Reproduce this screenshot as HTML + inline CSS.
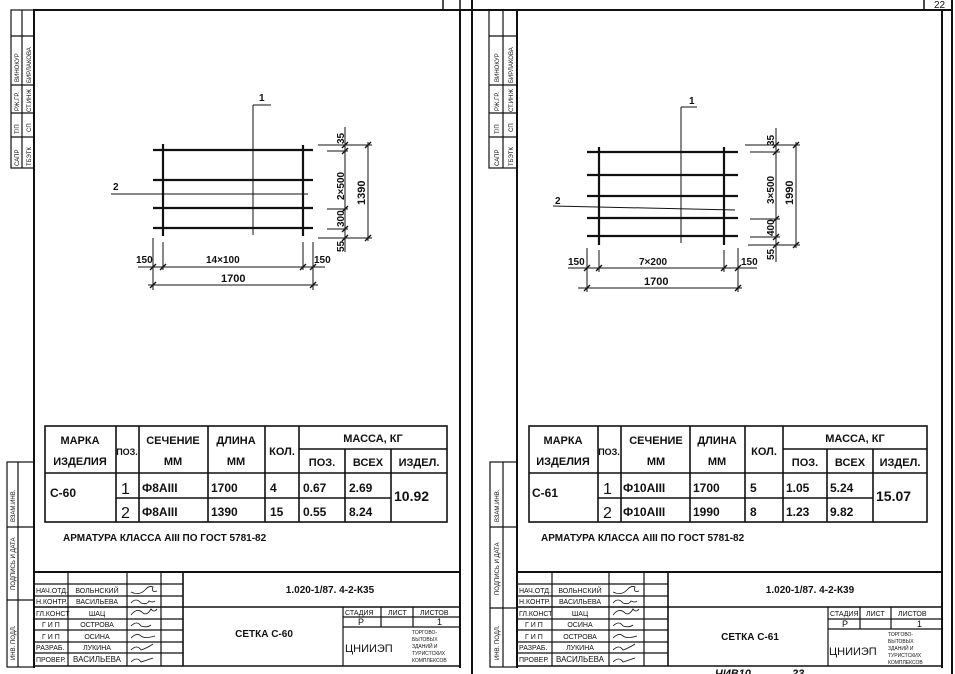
<!DOCTYPE html>
<html><head><meta charset="utf-8"><style>
html,body{margin:0;padding:0;background:#fff;}
svg{display:block;}
text{font-family:"Liberation Sans",sans-serif;fill:#111;}
.b{font-weight:bold;}
.m{font-family:"Liberation Mono",monospace;font-weight:bold;}
</style></head><body>
<svg width="955" height="674" viewBox="0 0 955 674" xmlns="http://www.w3.org/2000/svg" stroke="#111" fill="none">
<defs><path id="tk" d="M-3 3 L3 -3" stroke-width="1.3"/></defs>
<!-- global frame lines -->
<line x1="33" y1="10" x2="952" y2="10" stroke-width="2"/>
<line x1="443" y1="0" x2="443" y2="10" stroke-width="1.5"/>
<line x1="472" y1="0" x2="472" y2="674" stroke-width="2"/>
<line x1="924" y1="0" x2="924" y2="10" stroke-width="1.5"/>
<line x1="952" y1="0" x2="952" y2="674" stroke-width="2"/>
<text x="934" y="8" font-size="10" stroke="none">22</text>

<!-- ===== LEFT SHEET ===== -->
<line x1="34" y1="10" x2="34" y2="668" stroke-width="2"/>
<line x1="460" y1="10" x2="460" y2="668" stroke-width="2"/>
<line x1="34" y1="666" x2="460" y2="666" stroke-width="1.5"/>
<g stroke-width="1.2">
<rect x="11" y="10" width="23" height="158"/>
<line x1="22" y1="10" x2="22" y2="168"/>
<line x1="11" y1="36" x2="34" y2="36"/>
<line x1="11" y1="85" x2="34" y2="85"/>
<line x1="11" y1="113" x2="34" y2="113"/>
<line x1="11" y1="137" x2="34" y2="137"/>
</g>
<g font-size="6" stroke="none">
<text transform="translate(19,166) rotate(-90)">САПР</text>
<text transform="translate(31,166) rotate(-90)">ТБЭТК</text>
<text transform="translate(19,134) rotate(-90)">Т/П</text>
<text transform="translate(31,132) rotate(-90)">СП</text>
<text transform="translate(19,111) rotate(-90)">РЖ.ГР.</text>
<text transform="translate(31,112) rotate(-90)">СТ.ИНЖ</text>
<text transform="translate(19,82) rotate(-90)">ВИНОКУР</text>
<text transform="translate(31,83) rotate(-90)">БИРЛАКОВА</text>
</g>
<g stroke-width="1.2">
<rect x="7" y="462" width="27" height="205"/>
<line x1="18" y1="462" x2="18" y2="667"/>
<line x1="7" y1="527" x2="34" y2="527"/>
<line x1="7" y1="600" x2="34" y2="600"/>
</g>
<g font-size="6" stroke="none">
<text transform="translate(15,522) rotate(-90)">ВЗАМ.ИНВ.</text>
<text transform="translate(15,590) rotate(-90)">ПОДПИСЬ И ДАТА</text>
<text transform="translate(15,660) rotate(-90)">ИНВ. ПОДЛ.</text>
</g>

<!-- left drawing -->
<g stroke-width="2.2">
<line x1="153" y1="150" x2="313" y2="150"/>
<line x1="153" y1="180" x2="313" y2="180"/>
<line x1="153" y1="208" x2="313" y2="208"/>
<line x1="153" y1="228" x2="313" y2="228"/>
<line x1="163" y1="144" x2="163" y2="236"/>
<line x1="303" y1="145" x2="303" y2="236"/>
</g>
<g stroke-width="1">
<line x1="111" y1="194" x2="308" y2="194"/>
<line x1="253" y1="105" x2="253" y2="235"/>
<line x1="253" y1="105" x2="271" y2="105"/>
<line x1="318" y1="145" x2="372" y2="145"/>
<line x1="318" y1="238" x2="372" y2="238"/>
<line x1="327" y1="151" x2="348" y2="151"/>
<line x1="327" y1="209" x2="348" y2="209"/>
<line x1="327" y1="229" x2="348" y2="229"/>
<line x1="345" y1="127" x2="345" y2="252"/>
<line x1="368" y1="142" x2="368" y2="241"/>
<line x1="153" y1="238" x2="153" y2="290"/>
<line x1="163" y1="242" x2="163" y2="270"/>
<line x1="303" y1="242" x2="303" y2="270"/>
<line x1="313" y1="242" x2="313" y2="290"/>
<line x1="138" y1="267" x2="325" y2="267"/>
<line x1="148" y1="285" x2="318" y2="285"/>
</g>
<g>
<use href="#tk" x="153" y="267"/><use href="#tk" x="163" y="267"/><use href="#tk" x="303" y="267"/><use href="#tk" x="313" y="267"/>
<use href="#tk" x="153" y="285"/><use href="#tk" x="313" y="285"/>
<use href="#tk" x="345" y="145"/><use href="#tk" x="345" y="151"/><use href="#tk" x="345" y="209"/><use href="#tk" x="345" y="229"/><use href="#tk" x="345" y="238"/>
<use href="#tk" x="368" y="145"/><use href="#tk" x="368" y="238"/>
</g>
<g font-size="11" stroke="none" class="b">
<text x="259" y="101" font-size="10">1</text>
<text x="113" y="190" font-size="10">2</text>
<text transform="translate(344,144) rotate(-90)" font-size="10">35</text>
<text transform="translate(344,200) rotate(-90)" font-size="10">2×500</text>
<text transform="translate(344,227) rotate(-90)" font-size="10">300</text>
<text transform="translate(344,252) rotate(-90)" font-size="10">55</text>
<text transform="translate(365,205) rotate(-90)" font-size="11">1390</text>
<text x="136" y="263" font-size="10">150</text>
<text x="206" y="263" font-size="10">14×100</text>
<text x="314" y="263" font-size="10">150</text>
<text x="221" y="282" font-size="11">1700</text>
</g>

<!-- left table -->
<g stroke-width="1.6">
<rect x="45" y="426" width="402" height="96"/>
<line x1="45" y1="473" x2="447" y2="473"/>
<line x1="299" y1="449" x2="447" y2="449"/>
<line x1="116" y1="498" x2="391" y2="498"/>
<line x1="116" y1="426" x2="116" y2="522"/>
<line x1="139" y1="426" x2="139" y2="522"/>
<line x1="208" y1="426" x2="208" y2="522"/>
<line x1="265" y1="426" x2="265" y2="522"/>
<line x1="299" y1="426" x2="299" y2="522"/>
<line x1="345" y1="449" x2="345" y2="522"/>
<line x1="391" y1="449" x2="391" y2="522"/>
</g>
<g stroke="none" class="b" font-size="11">
<text x="80" y="444" text-anchor="middle">МАРКА</text>
<text x="80" y="465" text-anchor="middle">ИЗДЕЛИЯ</text>
<text x="127" y="455" text-anchor="middle" font-size="9">ПОЗ.</text>
<text x="173" y="444" text-anchor="middle">СЕЧЕНИЕ</text>
<text x="173" y="465" text-anchor="middle">ММ</text>
<text x="236" y="444" text-anchor="middle">ДЛИНА</text>
<text x="236" y="465" text-anchor="middle">ММ</text>
<text x="282" y="455" text-anchor="middle">КОЛ.</text>
<text x="373" y="442" text-anchor="middle">МАССА, КГ</text>
<text x="322" y="466" text-anchor="middle">ПОЗ.</text>
<text x="368" y="466" text-anchor="middle">ВСЕХ</text>
<text x="419" y="466" text-anchor="middle">ИЗДЕЛ.</text>
</g>
<g stroke="none" class="m" font-size="12">
<text x="50" y="497">С-60</text>
<text x="121" y="494" font-size="16" font-family="Liberation Sans" font-weight="normal">1</text>
<text x="121" y="518" font-size="16" font-family="Liberation Sans" font-weight="normal">2</text>
<text x="142" y="492">Ф8АIII</text>
<text x="142" y="516">Ф8АIII</text>
<text x="211" y="492">1700</text>
<text x="211" y="516">1390</text>
<text x="270" y="492">4</text>
<text x="270" y="516">15</text>
<text x="303" y="492">0.67</text>
<text x="303" y="516">0.55</text>
<text x="349" y="492">2.69</text>
<text x="349" y="516">8.24</text>
<text x="394" y="501" font-size="14">10.92</text>
</g>
<text x="63" y="541" font-size="10" class="b" stroke="none">АРМАТУРА КЛАССА АIII  ПО ГОСТ 5781-82</text>

<!-- left title block -->
<g stroke-width="1.2">
<line x1="34" y1="572" x2="460" y2="572" stroke-width="2"/>
<line x1="183" y1="607" x2="460" y2="607" stroke-width="1.6"/>
<line x1="34" y1="584" x2="183" y2="584"/>
<line x1="34" y1="596" x2="183" y2="596"/>
<line x1="34" y1="607" x2="183" y2="607" stroke-width="1.6"/>
<line x1="34" y1="619" x2="183" y2="619"/>
<line x1="34" y1="630" x2="183" y2="630"/>
<line x1="34" y1="642" x2="183" y2="642"/>
<line x1="34" y1="653" x2="183" y2="653"/>
<line x1="68" y1="572" x2="68" y2="666"/>
<line x1="127" y1="572" x2="127" y2="666"/>
<line x1="161" y1="572" x2="161" y2="666"/>
<line x1="183" y1="572" x2="183" y2="666" stroke-width="1.6"/>
<line x1="343" y1="607" x2="343" y2="666"/>
<line x1="343" y1="617" x2="460" y2="617"/>
<line x1="343" y1="627" x2="460" y2="627"/>
<line x1="381" y1="607" x2="381" y2="627"/>
<line x1="413" y1="607" x2="413" y2="627"/>
</g>
<g stroke="none" font-size="7">
<text x="36" y="593">НАЧ.ОТД.</text><text x="97" y="593" text-anchor="middle">ВОЛЬНСКИЙ</text>
<text x="36" y="604">Н.КОНТР.</text><text x="97" y="604" text-anchor="middle">ВАСИЛЬЕВА</text>
<text x="36" y="616">ГЛ.КОНСТ</text><text x="97" y="616" text-anchor="middle">ШАЦ</text>
<text x="42" y="627">Г И П</text><text x="97" y="627" text-anchor="middle">ОСТРОВА</text>
<text x="42" y="639">Г И П</text><text x="97" y="639" text-anchor="middle">ОСИНА</text>
<text x="36" y="650">РАЗРАБ.</text><text x="97" y="650" text-anchor="middle">ЛУКИНА</text>
<text x="36" y="662">ПРОВЕР.</text><text x="97" y="662" text-anchor="middle" font-size="8">ВАСИЛЬЕВА</text>
<text x="330" y="593" text-anchor="middle" font-size="10" class="b">1.020-1/87.  4-2-К35</text>
<text x="264" y="637" text-anchor="middle" font-size="10" class="b">СЕТКА С-60</text>
<text x="345" y="615">СТАДИЯ</text><text x="388" y="615">ЛИСТ</text><text x="420" y="615">ЛИСТОВ</text>
<text x="358" y="625" font-size="9">Р</text><text x="437" y="625" font-size="9">1</text>
<text x="345" y="652" font-size="11">ЦНИИЭП</text>
<g font-size="5"><text x="412" y="634">ТОРГОВО-</text><text x="412" y="641">БЫТОВЫХ</text><text x="412" y="648">ЗДАНИЙ И</text><text x="412" y="655">ТУРИСТСКИХ</text><text x="412" y="662">КОМПЛЕКСОВ</text></g>
</g>
<g stroke-width="0.8">
<path d="M131 592 q8 4 14 -2 q4 -5 8 -3 q-2 6 4 4"/>
<path d="M131 603 q5 -6 10 0 q6 2 8 -2 q4 2 6 0"/>
<path d="M131 615 q6 -8 12 -2 q4 3 8 -4 q3 4 6 0"/>
<path d="M131 626 q6 -6 10 0 q6 2 10 -1"/>
<path d="M131 638 q6 -6 10 -2 q4 3 14 0"/>
<path d="M131 650 q6 -6 10 0 q6 -2 12 -6"/>
<path d="M131 662 q6 -6 10 0 q6 -2 12 -4"/>
</g>

<!-- ===== RIGHT SHEET ===== -->
<line x1="460" y1="0" x2="460" y2="10" stroke-width="1.5"/>
<line x1="517" y1="10" x2="517" y2="668" stroke-width="2"/>
<line x1="942" y1="10" x2="942" y2="668" stroke-width="2"/>
<line x1="517" y1="666" x2="942" y2="666" stroke-width="1.5"/>
<g stroke-width="1.2">
<rect x="489" y="10" width="28" height="158"/>
<line x1="503" y1="10" x2="503" y2="168"/>
<line x1="489" y1="36" x2="517" y2="36"/>
<line x1="489" y1="85" x2="517" y2="85"/>
<line x1="489" y1="113" x2="517" y2="113"/>
<line x1="489" y1="137" x2="517" y2="137"/>
<rect x="490" y="462" width="27" height="205"/>
<line x1="503" y1="462" x2="503" y2="667"/>
<line x1="490" y1="527" x2="517" y2="527"/>
<line x1="490" y1="608" x2="517" y2="608"/>
</g>
<g font-size="6" stroke="none">
<text transform="translate(499,166) rotate(-90)">САПР</text>
<text transform="translate(513,166) rotate(-90)">ТБЭТК</text>
<text transform="translate(499,134) rotate(-90)">Т/П</text>
<text transform="translate(513,132) rotate(-90)">СП</text>
<text transform="translate(499,111) rotate(-90)">РЖ.ГР.</text>
<text transform="translate(513,112) rotate(-90)">СТ.ИНЖ</text>
<text transform="translate(499,82) rotate(-90)">ВИНОКУР</text>
<text transform="translate(513,83) rotate(-90)">БИРЛАКОВА</text>
<text transform="translate(499,522) rotate(-90)">ВЗАМ.ИНВ.</text>
<text transform="translate(499,595) rotate(-90)">ПОДПИСЬ И ДАТА</text>
<text transform="translate(499,660) rotate(-90)">ИНВ. ПОДЛ.</text>
</g>

<!-- right drawing -->
<g stroke-width="2.2">
<line x1="587" y1="152" x2="738" y2="152"/>
<line x1="587" y1="175" x2="738" y2="175"/>
<line x1="587" y1="196" x2="738" y2="196"/>
<line x1="587" y1="218" x2="738" y2="218"/>
<line x1="587" y1="236" x2="738" y2="236"/>
<line x1="599" y1="147" x2="599" y2="245"/>
<line x1="724" y1="147" x2="724" y2="245"/>
</g>
<g stroke-width="1">
<line x1="553" y1="206" x2="735" y2="210"/>
<line x1="681" y1="107" x2="681" y2="243"/>
<line x1="681" y1="107" x2="697" y2="107"/>
<line x1="745" y1="145" x2="800" y2="145"/>
<line x1="748" y1="245" x2="800" y2="245"/>
<line x1="750" y1="152" x2="780" y2="152"/>
<line x1="750" y1="219" x2="780" y2="219"/>
<line x1="750" y1="237" x2="780" y2="237"/>
<line x1="776" y1="128" x2="776" y2="262"/>
<line x1="796" y1="142" x2="796" y2="248"/>
<line x1="587" y1="248" x2="587" y2="292"/>
<line x1="599" y1="250" x2="599" y2="272"/>
<line x1="724" y1="250" x2="724" y2="272"/>
<line x1="738" y1="248" x2="738" y2="292"/>
<line x1="568" y1="268" x2="757" y2="268"/>
<line x1="578" y1="288" x2="742" y2="288"/>
</g>
<g>
<use href="#tk" x="587" y="268"/><use href="#tk" x="599" y="268"/><use href="#tk" x="724" y="268"/><use href="#tk" x="738" y="268"/>
<use href="#tk" x="587" y="288"/><use href="#tk" x="738" y="288"/>
<use href="#tk" x="776" y="145"/><use href="#tk" x="776" y="152"/><use href="#tk" x="776" y="219"/><use href="#tk" x="776" y="237"/><use href="#tk" x="776" y="245"/>
<use href="#tk" x="796" y="145"/><use href="#tk" x="796" y="245"/>
</g>
<g font-size="10" stroke="none" class="b">
<text x="689" y="104">1</text>
<text x="555" y="204">2</text>
<text transform="translate(774,146) rotate(-90)">35</text>
<text transform="translate(774,204) rotate(-90)">3×500</text>
<text transform="translate(774,236) rotate(-90)">400</text>
<text transform="translate(774,260) rotate(-90)">55</text>
<text transform="translate(793,205) rotate(-90)" font-size="11">1990</text>
<text x="568" y="265">150</text>
<text x="639" y="265">7×200</text>
<text x="741" y="265">150</text>
<text x="644" y="285" font-size="11">1700</text>
</g>

<!-- right table -->
<g stroke-width="1.6">
<rect x="529" y="426" width="398" height="96"/>
<line x1="529" y1="473" x2="927" y2="473"/>
<line x1="783" y1="449" x2="927" y2="449"/>
<line x1="598" y1="498" x2="873" y2="498"/>
<line x1="598" y1="426" x2="598" y2="522"/>
<line x1="621" y1="426" x2="621" y2="522"/>
<line x1="690" y1="426" x2="690" y2="522"/>
<line x1="745" y1="426" x2="745" y2="522"/>
<line x1="783" y1="426" x2="783" y2="522"/>
<line x1="827" y1="449" x2="827" y2="522"/>
<line x1="873" y1="449" x2="873" y2="522"/>
</g>
<g stroke="none" class="b" font-size="11">
<text x="563" y="444" text-anchor="middle">МАРКА</text>
<text x="563" y="465" text-anchor="middle">ИЗДЕЛИЯ</text>
<text x="609" y="455" text-anchor="middle" font-size="9">ПОЗ.</text>
<text x="656" y="444" text-anchor="middle">СЕЧЕНИЕ</text>
<text x="656" y="465" text-anchor="middle">ММ</text>
<text x="717" y="444" text-anchor="middle">ДЛИНА</text>
<text x="717" y="465" text-anchor="middle">ММ</text>
<text x="764" y="455" text-anchor="middle">КОЛ.</text>
<text x="855" y="442" text-anchor="middle">МАССА, КГ</text>
<text x="805" y="466" text-anchor="middle">ПОЗ.</text>
<text x="850" y="466" text-anchor="middle">ВСЕХ</text>
<text x="900" y="466" text-anchor="middle">ИЗДЕЛ.</text>
</g>
<g stroke="none" class="m" font-size="12">
<text x="532" y="497">С-61</text>
<text x="603" y="494" font-size="16" font-family="Liberation Sans" font-weight="normal">1</text>
<text x="603" y="518" font-size="16" font-family="Liberation Sans" font-weight="normal">2</text>
<text x="623" y="492">Ф10АIII</text>
<text x="623" y="516">Ф10АIII</text>
<text x="693" y="492">1700</text>
<text x="693" y="516">1990</text>
<text x="750" y="492">5</text>
<text x="750" y="516">8</text>
<text x="786" y="492">1.05</text>
<text x="786" y="516">1.23</text>
<text x="830" y="492">5.24</text>
<text x="830" y="516">9.82</text>
<text x="876" y="501" font-size="14">15.07</text>
</g>
<text x="541" y="541" font-size="10" class="b" stroke="none">АРМАТУРА КЛАССА АIII  ПО ГОСТ 5781-82</text>

<!-- right title block -->
<g stroke-width="1.2">
<line x1="517" y1="572" x2="942" y2="572" stroke-width="2"/>
<line x1="668" y1="607" x2="942" y2="607" stroke-width="1.6"/>
<line x1="517" y1="584" x2="668" y2="584"/>
<line x1="517" y1="596" x2="668" y2="596"/>
<line x1="517" y1="607" x2="668" y2="607" stroke-width="1.6"/>
<line x1="517" y1="619" x2="668" y2="619"/>
<line x1="517" y1="630" x2="668" y2="630"/>
<line x1="517" y1="642" x2="668" y2="642"/>
<line x1="517" y1="653" x2="668" y2="653"/>
<line x1="552" y1="572" x2="552" y2="666"/>
<line x1="609" y1="572" x2="609" y2="666"/>
<line x1="644" y1="572" x2="644" y2="666"/>
<line x1="668" y1="572" x2="668" y2="666" stroke-width="1.6"/>
<line x1="828" y1="607" x2="828" y2="666"/>
<line x1="828" y1="619" x2="942" y2="619"/>
<line x1="828" y1="629" x2="942" y2="629"/>
<line x1="860" y1="607" x2="860" y2="629"/>
<line x1="891" y1="607" x2="891" y2="629"/>
</g>
<g stroke="none" font-size="7">
<text x="519" y="593">НАЧ.ОТД.</text><text x="580" y="593" text-anchor="middle">ВОЛЬНСКИЙ</text>
<text x="519" y="604">Н.КОНТР.</text><text x="580" y="604" text-anchor="middle">ВАСИЛЬЕВА</text>
<text x="519" y="616">ГЛ.КОНСТ</text><text x="580" y="616" text-anchor="middle">ШАЦ</text>
<text x="525" y="627">Г И П</text><text x="580" y="627" text-anchor="middle">ОСИНА</text>
<text x="525" y="639">Г И П</text><text x="580" y="639" text-anchor="middle">ОСТРОВА</text>
<text x="519" y="650">РАЗРАБ.</text><text x="580" y="650" text-anchor="middle">ЛУКИНА</text>
<text x="519" y="662">ПРОВЕР.</text><text x="580" y="662" text-anchor="middle" font-size="8">ВАСИЛЬЕВА</text>
<text x="810" y="593" text-anchor="middle" font-size="10" class="b">1.020-1/87.  4-2-К39</text>
<text x="750" y="640" text-anchor="middle" font-size="10" class="b">СЕТКА С-61</text>
<text x="830" y="616">СТАДИЯ</text><text x="866" y="616">ЛИСТ</text><text x="898" y="616">ЛИСТОВ</text>
<text x="842" y="627" font-size="9">Р</text><text x="917" y="627" font-size="9">1</text>
<text x="829" y="655" font-size="11">ЦНИИЭП</text>
<g font-size="5"><text x="888" y="636">ТОРГОВО-</text><text x="888" y="643">БЫТОВЫХ</text><text x="888" y="650">ЗДАНИЙ И</text><text x="888" y="657">ТУРИСТСКИХ</text><text x="888" y="664">КОМПЛЕКСОВ</text></g>
<text x="715" y="677" font-size="11" class="b" font-style="italic">ЧИВ10</text>
<text x="792" y="677" font-size="11" class="b" font-style="italic">23</text>
</g>
<g stroke-width="0.8">
<path d="M613 592 q8 4 14 -2 q4 -5 8 -3 q-2 6 4 4"/>
<path d="M613 603 q5 -6 10 0 q6 2 8 -2 q4 2 6 0"/>
<path d="M613 615 q6 -8 12 -2 q4 3 8 -4 q3 4 6 0"/>
<path d="M613 626 q6 -6 10 0 q6 2 10 -1"/>
<path d="M613 638 q6 -6 10 -2 q4 3 14 0"/>
<path d="M613 650 q6 -6 10 0 q6 -2 12 -6"/>
<path d="M613 662 q6 -6 10 0 q6 -2 12 -4"/>
</g>
</svg>
</body></html>
